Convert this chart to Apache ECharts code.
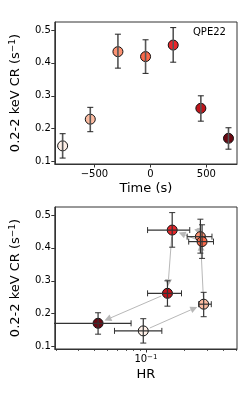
<!DOCTYPE html>
<html>
<head>
<meta charset="utf-8">
<script src="https://cdn.jsdelivr.net/npm/echarts@6/dist/echarts.min.js"></script>
<style>html,body{margin:0;padding:0;background:#fff}#c{width:246px;height:393px}</style>
</head>
<body>
<div id="c"></div>
<script>
// ---- data ----
const times  = [-784, -537, -290, -43, 204, 451, 698];
const cr     = [0.148, 0.229, 0.434, 0.419, 0.454, 0.262, 0.171];
const crLow  = [0.111, 0.191, 0.384, 0.368, 0.402, 0.223, 0.138];
const crHigh = [0.185, 0.265, 0.487, 0.470, 0.507, 0.300, 0.203];
const hr     = [0.0954, 0.281, 0.265, 0.273, 0.160, 0.147, 0.0425];
const hrLow  = [0.057, 0.257, 0.209, 0.215, 0.103, 0.103, 0.010];
const hrHigh = [0.133, 0.322, 0.326, 0.335, 0.219, 0.189, 0.0767];
const colors = ['#fff0e8', '#fcbba1', '#fc9272', '#fb6a4a', '#e8262a', '#bf151b', '#690812'];
const timeTicks = [-500, 0, 500];
const crTicks = [0.1, 0.2, 0.3, 0.4, 0.5];
const hrMajorTicks = [0.1];
const hrMinorTicks = [0.02, 0.03, 0.04, 0.05, 0.06, 0.07, 0.08, 0.09, 0.2, 0.3, 0.4, 0.5];
const label = 'QPE22';

const FONT = 'DejaVu Sans';
const AX = '#333';
const chart = echarts.init(document.getElementById('c'), null, {renderer: 'canvas'});
const minus = v => String(v).replace('-', '\u2212');

function yAxisCfg(gi) {
  return {
    gridIndex: gi, type: 'value', min: 0.093, max: 0.524, position: 'left',
    name: '0.2-2 keV CR (s{sup|\u22121})', nameLocation: 'middle', nameGap: 29, nameRotate: 90,
    nameTextStyle: {fontFamily: FONT, fontSize: 13, color: '#000', lineHeight: 16,
      rich: {sup: {fontFamily: FONT, fontSize: 9, color: '#000', verticalAlign: 'top', lineHeight: 10}}},
    axisLine: {show: true, onZero: false, lineStyle: {color: AX, width: 1}},
    axisTick: {show: true, length: 3.5, customValues: crTicks, lineStyle: {color: AX}},
    axisLabel: {customValues: crTicks, margin: 4, fontFamily: FONT, fontSize: 10, color: '#000',
      formatter: v => v.toFixed(1)},
    splitLine: {show: false}
  };
}

const errTop = times.map((t, i) => [t, cr[i], crLow[i], crHigh[i]]);
const errBot = hr.map((h, i) => [h, cr[i], hrLow[i], hrHigh[i], crLow[i], crHigh[i]]);
const arrows = [];
for (let i = 0; i < hr.length - 1; i++) arrows.push([hr[i], cr[i], hr[i + 1], cr[i + 1]]);

function capStyle(c, w) { return {stroke: c, lineWidth: w}; }

function renderErrTop(params, api) {
  const x = api.value(0);
  const lo = api.coord([x, api.value(2)]);
  const hi = api.coord([x, api.value(3)]);
  const cw = 3;
  return {type: 'group', children: [
    {type: 'line', shape: {x1: lo[0], y1: lo[1], x2: hi[0], y2: hi[1]}, style: capStyle('#555', 1.6)},
    {type: 'line', shape: {x1: lo[0] - cw, y1: lo[1], x2: lo[0] + cw, y2: lo[1]}, style: capStyle('#222', 1)},
    {type: 'line', shape: {x1: hi[0] - cw, y1: hi[1], x2: hi[0] + cw, y2: hi[1]}, style: capStyle('#222', 1)}
  ]};
}

function renderErrBot(params, api) {
  const x = api.value(0), y = api.value(1);
  const l = api.coord([api.value(2), y]);
  const r = api.coord([api.value(3), y]);
  const lo = api.coord([x, api.value(4)]);
  const hi = api.coord([x, api.value(5)]);
  const cw = 3;
  const c = '#333';
  return {type: 'group', children: [
    {type: 'line', shape: {x1: l[0], y1: l[1], x2: r[0], y2: r[1]}, style: capStyle(c, 1.2)},
    {type: 'line', shape: {x1: l[0], y1: l[1] - cw, x2: l[0], y2: l[1] + cw}, style: capStyle(c, 1)},
    {type: 'line', shape: {x1: r[0], y1: r[1] - cw, x2: r[0], y2: r[1] + cw}, style: capStyle(c, 1)},
    {type: 'line', shape: {x1: lo[0], y1: lo[1], x2: hi[0], y2: hi[1]}, style: capStyle(c, 1.2)},
    {type: 'line', shape: {x1: lo[0] - cw, y1: lo[1], x2: lo[0] + cw, y2: lo[1]}, style: capStyle(c, 1)},
    {type: 'line', shape: {x1: hi[0] - cw, y1: hi[1], x2: hi[0] + cw, y2: hi[1]}, style: capStyle(c, 1)}
  ]};
}

function renderArrow(params, api) {
  const a = api.coord([api.value(0), api.value(1)]);
  const b = api.coord([api.value(2), api.value(3)]);
  const dx = b[0] - a[0], dy = b[1] - a[1];
  const len = Math.sqrt(dx * dx + dy * dy);
  const ux = dx / len, uy = dy / len;
  const shrink = 7;
  const s = [a[0] + ux * shrink, a[1] + uy * shrink];
  const e = [b[0] - ux * shrink, b[1] - uy * shrink];
  const hl = 7, hw = 3.5;
  const base = [e[0] - ux * hl, e[1] - uy * hl];
  const px = -uy, py = ux;
  const col = '#b8b8b8';
  return {type: 'group', children: [
    {type: 'line', shape: {x1: s[0], y1: s[1], x2: base[0], y2: base[1]}, style: {stroke: col, lineWidth: 1}},
    {type: 'polygon', shape: {points: [[e[0], e[1]], [base[0] + px * hw, base[1] + py * hw], [base[0] - px * hw, base[1] - py * hw]]},
      style: {fill: col}}
  ]};
}

const option = {
  animation: false,
  backgroundColor: '#fff',
  grid: [
    {left: 53, top: 22, width: 184, height: 142, show: true, borderColor: AX, borderWidth: 1, backgroundColor: 'transparent'},
    {left: 53, top: 207, width: 184, height: 142, show: true, borderColor: AX, borderWidth: 1, backgroundColor: 'transparent'}
  ],
  xAxis: [
    {gridIndex: 0, type: 'value', min: -854, max: 774, position: 'bottom',
      name: 'Time (s)', nameLocation: 'middle', nameGap: 18,
      nameTextStyle: {fontFamily: FONT, fontSize: 13, color: '#000'},
      axisLine: {show: true, onZero: false, lineStyle: {color: AX}},
      axisTick: {show: true, length: 3.5, customValues: timeTicks, lineStyle: {color: AX}},
      axisLabel: {customValues: timeTicks, margin: 5, fontFamily: FONT, fontSize: 10, color: '#000', formatter: minus},
      splitLine: {show: false}},
    {gridIndex: 1, type: 'log', logBase: 10, min: 0.0196, max: 0.51, position: 'bottom',
      name: 'HR', nameLocation: 'middle', nameGap: 19,
      nameTextStyle: {fontFamily: FONT, fontSize: 13, color: '#000'},
      axisLine: {show: true, onZero: false, lineStyle: {color: AX}},
      axisTick: {show: true, length: 3.5, customValues: hrMajorTicks, lineStyle: {color: AX}},
      axisLabel: {customValues: hrMajorTicks, margin: 5, fontFamily: FONT, fontSize: 10, color: '#000',
        formatter: v => '10{sup|\u2212' + Math.round(-Math.log10(v)) + '}',
        rich: {sup: {fontFamily: FONT, fontSize: 7, color: '#000', verticalAlign: 'top', lineHeight: 8}}},
      splitLine: {show: false}, minorTick: {show: false}},
    {gridIndex: 1, type: 'log', logBase: 10, min: 0.0196, max: 0.51, position: 'bottom',
      axisLine: {show: false, onZero: false},
      axisTick: {show: true, length: 2, customValues: hrMinorTicks, lineStyle: {color: AX, width: 0.8}},
      axisLabel: {show: false},
      splitLine: {show: false}}
  ],
  yAxis: [yAxisCfg(0), yAxisCfg(1)],
  graphic: [
    {type: 'text', left: 193, top: 27, style: {text: label, fontFamily: FONT, fontSize: 10, fill: '#000'}}
  ],
  series: [
    {type: 'scatter', xAxisIndex: 0, yAxisIndex: 0, symbolSize: 10, z: 2,
      data: times.map((t, i) => ({value: [t, cr[i]], itemStyle: {color: colors[i]}})),
      itemStyle: {borderColor: '#111', borderWidth: 1, opacity: 1}},
    {type: 'custom', xAxisIndex: 0, yAxisIndex: 0, renderItem: renderErrTop, data: errTop, z: 3,
      encode: {x: 0, y: [1, 2, 3]}},
    {type: 'custom', xAxisIndex: 1, yAxisIndex: 1, renderItem: renderArrow, data: arrows, z: 1,
      encode: {x: [0, 2], y: [1, 3]}},
    {type: 'scatter', xAxisIndex: 1, yAxisIndex: 1, symbolSize: 10, z: 2,
      data: hr.map((h, i) => ({value: [h, cr[i]], itemStyle: {color: colors[i]}})),
      itemStyle: {borderColor: '#111', borderWidth: 1, opacity: 1}},
    {type: 'custom', xAxisIndex: 1, yAxisIndex: 1, renderItem: renderErrBot, data: errBot, z: 3, clip: true,
      encode: {x: [0, 2, 3], y: [1, 4, 5]}}
  ]
};
chart.setOption(option);
</script>
</body>
</html>
